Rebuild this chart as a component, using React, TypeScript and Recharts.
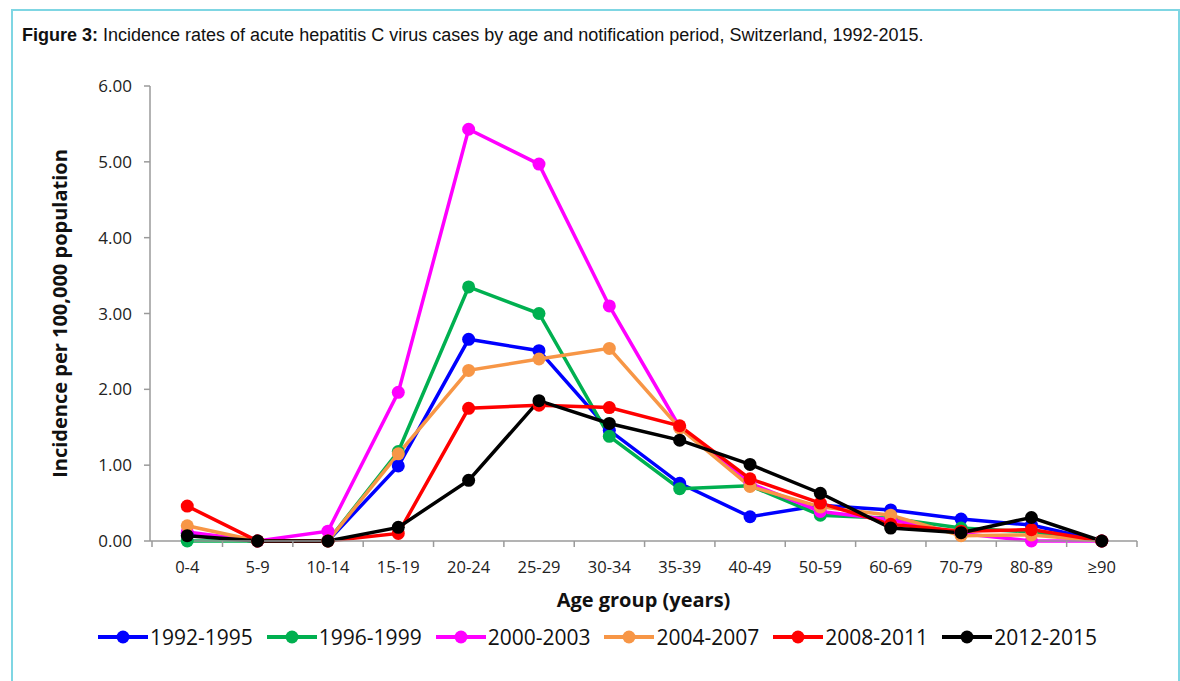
import { LineChart, Line, XAxis, YAxis, Label } from "recharts";

const ageGroups = ["0-4", "5-9", "10-14", "15-19", "20-24", "25-29", "30-34", "35-39", "40-49", "50-59", "60-69", "70-79", "80-89", "≥90"];
const yTicks = [0, 1, 2, 3, 4, 5, 6];

const p1992 = [0.1, 0, 0, 0.99, 2.66, 2.51, 1.46, 0.76, 0.32, 0.47, 0.41, 0.29, 0.21, 0];
const p1996 = [0.0, 0, 0, 1.18, 3.35, 3.0, 1.38, 0.69, 0.73, 0.34, 0.3, 0.17, 0.12, 0];
const p2000 = [0.12, 0, 0.13, 1.96, 5.43, 4.97, 3.1, 1.5, 0.76, 0.39, 0.28, 0.1, 0.0, 0];
const p2004 = [0.2, 0, 0, 1.15, 2.25, 2.4, 2.54, 1.49, 0.72, 0.45, 0.34, 0.07, 0.08, 0];
const p2008 = [0.46, 0, 0, 0.1, 1.75, 1.79, 1.76, 1.52, 0.82, 0.5, 0.22, 0.13, 0.15, 0];
const p2012 = [0.07, 0, 0, 0.18, 0.8, 1.85, 1.55, 1.33, 1.01, 0.63, 0.17, 0.11, 0.31, 0];

const series = [
  { key: "1992-1995", values: p1992, color: "#0000ff" },
  { key: "1996-1999", values: p1996, color: "#00b050" },
  { key: "2000-2003", values: p2000, color: "#ff00ff" },
  { key: "2004-2007", values: p2004, color: "#f79646" },
  { key: "2008-2011", values: p2008, color: "#ff0000" },
  { key: "2012-2015", values: p2012, color: "#000000" },
];

const data = ageGroups.map((g, i) => {
  const row: Record<string, string | number> = { age: g };
  for (const s of series) row[s.key] = s.values[i];
  return row;
});

const W = 1180;
const H = 681;
const PLOT_LEFT = 150;
const PLOT_RIGHT = 1137;
const HALF_BAND = (PLOT_RIGHT - PLOT_LEFT) / ageGroups.length / 2;
const AXIS = "#9a9a9a";
const FONT = "'Open Sans', sans-serif";

// category label plus Excel-style tick marks between categories
function AgeTick(props: any) {
  const { x, y, payload, index } = props;
  return (
    <g>
      {index === 0 && <line x1={x - HALF_BAND} x2={x - HALF_BAND} y1={y - 8} y2={y - 2} stroke={AXIS} strokeWidth={1.5} />}
      <line x1={x + HALF_BAND} x2={x + HALF_BAND} y1={y - 8} y2={y - 2} stroke={AXIS} strokeWidth={1.5} />
      <text x={x} y={y + 24} textAnchor="middle" fontSize={16.5} fill="#222" fontFamily={FONT}>
        {payload.value}
      </text>
    </g>
  );
}

export default function App() {
  return (
    <div style={{ position: "absolute", left: 0, top: 0, width: W, height: H, background: "#fff", overflow: "hidden" }}>
      <div
        style={{
          position: "absolute",
          left: 11,
          top: 9,
          width: 1165,
          height: 700,
          border: "2px solid #7fd6e3",
        }}
      />
      <div
        style={{
          position: "absolute",
          left: 22,
          top: 25,
          fontFamily: "'Liberation Sans', Arial, sans-serif",
          fontSize: 18,
          color: "#111",
          whiteSpace: "nowrap",
        }}
      >
        <b>Figure 3:</b> Incidence rates of acute hepatitis C virus cases by age and notification period, Switzerland, 1992-2015.
      </div>
      <div style={{ position: "absolute", left: 0, top: 0 }}>
        <LineChart width={W} height={H} data={data} margin={{ top: 86, right: W - PLOT_RIGHT, left: PLOT_LEFT - 100, bottom: 70 }}>
          <XAxis
            dataKey="age"
            padding={{ left: HALF_BAND + 2, right: HALF_BAND }}
            tickLine={false}
            axisLine={{ stroke: AXIS, strokeWidth: 1.5 }}
            tick={<AgeTick />}
            interval={0}
            height={70}
          >
            <Label value="Age group (years)" position="insideBottom" offset={4} fontSize={20} fontWeight="bold" fill="#111" fontFamily={FONT} />
          </XAxis>
          <YAxis
            width={100}
            domain={[0, 6]}
            ticks={yTicks}
            tickFormatter={(v: number) => v.toFixed(2)}
            axisLine={{ stroke: AXIS, strokeWidth: 1.5 }}
            tickLine={{ stroke: AXIS, strokeWidth: 1.5 }}
            tickSize={6}
            tickMargin={12}
            tick={{ fontSize: 17, fill: "#222", fontFamily: FONT }}
          >
            <Label
              value="Incidence per 100,000 population"
              angle={-90}
              position="insideLeft"
              offset={10}
              style={{ textAnchor: "middle" }}
              fontSize={20}
              fontWeight="bold"
              fill="#111"
              fontFamily={FONT}
            />
          </YAxis>
          {series.map((s) => (
            <Line
              key={s.key}
              dataKey={s.key}
              stroke={s.color}
              strokeWidth={3.5}
              dot={{ r: 6.5, fill: s.color, stroke: s.color, strokeWidth: 0 }}
              isAnimationActive={false}
            />
          ))}
        </LineChart>
      </div>
      <div
        style={{
          position: "absolute",
          left: 97,
          top: 623,
          display: "flex",
          alignItems: "center",
          fontFamily: FONT,
          fontSize: 21,
          color: "#111",
          whiteSpace: "nowrap",
        }}
      >
        {series.map((s) => (
          <div key={s.key} style={{ display: "flex", alignItems: "center", marginRight: 13 }}>
            <svg width={52} height={20}>
              <line x1={1} x2={51} y1={10} y2={10} stroke={s.color} strokeWidth={4} />
              <circle cx={26} cy={10} r={6.5} fill={s.color} />
            </svg>
            <span style={{ marginLeft: 1 }}>{s.key}</span>
          </div>
        ))}
      </div>
    </div>
  );
}
